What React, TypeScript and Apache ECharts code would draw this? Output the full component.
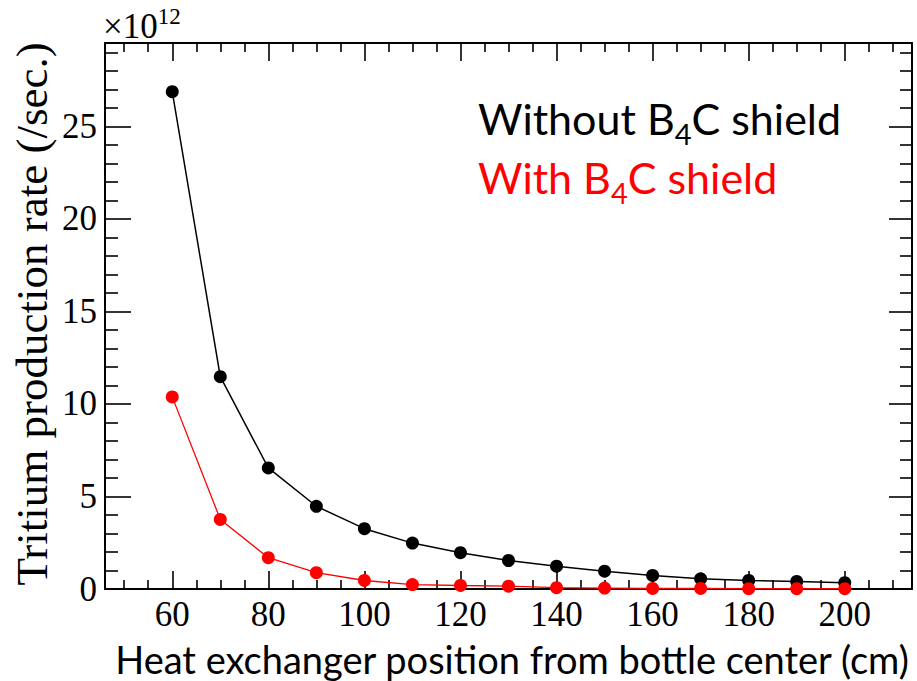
import React, { useEffect, useRef } from "react";
import * as echarts from "echarts";

// Heat exchanger position (cm)
const positions = [60, 70, 80, 90, 100, 110, 120, 130, 140, 150, 160, 170, 180, 190, 200];
// Tritium production rate (×10^12 /sec.)
const withoutShield = [26.87, 11.47, 6.54, 4.47, 3.26, 2.48, 1.96, 1.54, 1.23, 0.96, 0.73, 0.55, 0.46, 0.41, 0.34];
const withShield = [10.38, 3.76, 1.69, 0.88, 0.46, 0.24, 0.19, 0.15, 0.07, 0.05, 0.03, 0.03, 0.02, 0.02, 0.02];

const xMajorTicks = [60, 80, 100, 120, 140, 160, 180, 200];
const xMinorTicks = [50, 55, 65, 70, 75, 85, 90, 95, 105, 110, 115, 125, 130, 135, 145, 150, 155, 165, 170, 175, 185, 190, 195, 205, 210];
const yMajorTicks = [0, 5, 10, 15, 20, 25];
const yMinorTicks = [1, 2, 3, 4, 6, 7, 8, 9, 11, 12, 13, 14, 16, 17, 18, 19, 21, 22, 23, 24, 26, 27, 28, 29];

const X_MIN = 46;
const X_MAX = 214;
const Y_MIN = 0;
const Y_MAX = 29.5;

const SERIF = "'Liberation Serif', 'DejaVu Serif', serif";
const SANS = "Lato, 'Open Sans', sans-serif";

// width of a string in a given font, for placing sub/superscripts
const measure = (text: string, size: number, family: string) => {
  const ctx = document.createElement("canvas").getContext("2d");
  if (!ctx) return text.length * size * 0.5;
  ctx.font = `${size}px ${family}`;
  return ctx.measureText(text).width;
};

const tickAxis = (
  kind: "x" | "y",
  position: string,
  values: number[],
  length: number,
  showLine: boolean,
  labels: boolean
) => ({
  type: "value",
  position,
  min: kind === "x" ? X_MIN : Y_MIN,
  max: kind === "x" ? X_MAX : Y_MAX,
  axisLine: { show: showLine, onZero: false, lineStyle: { color: "#000", width: 2 } },
  axisTick: {
    show: true,
    inside: true,
    length,
    customValues: values,
    lineStyle: { color: "#000", width: 1.6 },
  },
  axisLabel: labels
    ? {
        show: true,
        customValues: values,
        inside: false,
        margin: 8,
        color: "#000",
        fontFamily: SERIF,
        fontSize: 35,
      }
    : { show: false },
  splitLine: { show: false },
  minorTick: { show: false },
});

// text with a subscript "4" in B4C, laid out as three pieces
const chemLabel = (before: string, after: string, x: number, cy: number, color: string) => {
  const size = 43;
  const subSize = 29;
  const w1 = measure(before, size, SANS);
  const w2 = measure("4", subSize, SANS);
  const base = { fontFamily: SANS, fill: color, verticalAlign: "middle", align: "left" };
  return [
    { type: "text", x, y: cy, style: { ...base, text: before, fontSize: size } },
    { type: "text", x: x + w1, y: cy + 15, style: { ...base, text: "4", fontSize: subSize } },
    { type: "text", x: x + w1 + w2, y: cy, style: { ...base, text: after, fontSize: size } },
  ];
};

export default function App() {
  const ref = useRef<HTMLDivElement>(null);

  useEffect(() => {
    if (!ref.current) return;
    const chart = echarts.init(ref.current, null, { renderer: "svg" });

    const expW = measure("×10", 35, SERIF);

    const option = {
      animation: false,
      backgroundColor: "#fff",
      grid: { left: 105, right: 5, top: 43, bottom: 92, containLabel: false },
      xAxis: [
        tickAxis("x", "bottom", xMajorTicks, 18, true, true),
        tickAxis("x", "bottom", xMinorTicks, 9, false, false),
        tickAxis("x", "top", xMajorTicks, 18, true, false),
        tickAxis("x", "top", xMinorTicks, 9, false, false),
      ],
      yAxis: [
        tickAxis("y", "left", yMajorTicks, 26, true, true),
        tickAxis("y", "left", yMinorTicks, 13, false, false),
        tickAxis("y", "right", yMajorTicks, 23, true, false),
        tickAxis("y", "right", yMinorTicks, 12, false, false),
      ],
      series: [
        {
          name: "Without B4C shield",
          type: "line",
          xAxisIndex: 0,
          yAxisIndex: 0,
          data: positions.map((x, i) => [x, withoutShield[i]]),
          symbol: "circle",
          symbolSize: 13,
          itemStyle: { color: "#000" },
          lineStyle: { color: "#000", width: 1.5 },
          z: 3,
        },
        {
          name: "With B4C shield",
          type: "line",
          xAxisIndex: 0,
          yAxisIndex: 0,
          data: positions.map((x, i) => [x, withShield[i]]),
          symbol: "circle",
          symbolSize: 13,
          itemStyle: { color: "#ff0000" },
          lineStyle: { color: "#ff0000", width: 1.3 },
          z: 4,
        },
      ],
      graphic: [
        {
          type: "text",
          x: 103,
          y: 26,
          style: { text: "×10", fontFamily: SERIF, fontSize: 35, fill: "#000", verticalAlign: "middle" },
        },
        {
          type: "text",
          x: 103 + expW,
          y: 16,
          style: { text: "12", fontFamily: SERIF, fontSize: 23, fill: "#000", verticalAlign: "middle" },
        },
        {
          type: "text",
          x: 32,
          y: 314,
          rotation: Math.PI / 2,
          style: {
            text: "Tritium production rate (/sec.)",
            fontFamily: SERIF,
            fontSize: 45,
            fill: "#000",
            align: "center",
            verticalAlign: "middle",
          },
        },
        {
          type: "text",
          x: 512,
          y: 659,
          style: {
            text: "Heat exchanger position from bottle center (cm)",
            fontFamily: SANS,
            fontSize: 38,
            fill: "#000",
            align: "center",
            verticalAlign: "middle",
          },
        },
        ...chemLabel("Without B", "C shield", 478, 118, "#000"),
        ...chemLabel("With B", "C shield", 478, 177, "#ff0000"),
      ],
    };

    chart.setOption(option as any);
    return () => chart.dispose();
  }, []);

  return (
    <div
      ref={ref}
      style={{ position: "fixed", left: 0, top: 0, width: 917, height: 681, background: "#fff" }}
    />
  );
}
